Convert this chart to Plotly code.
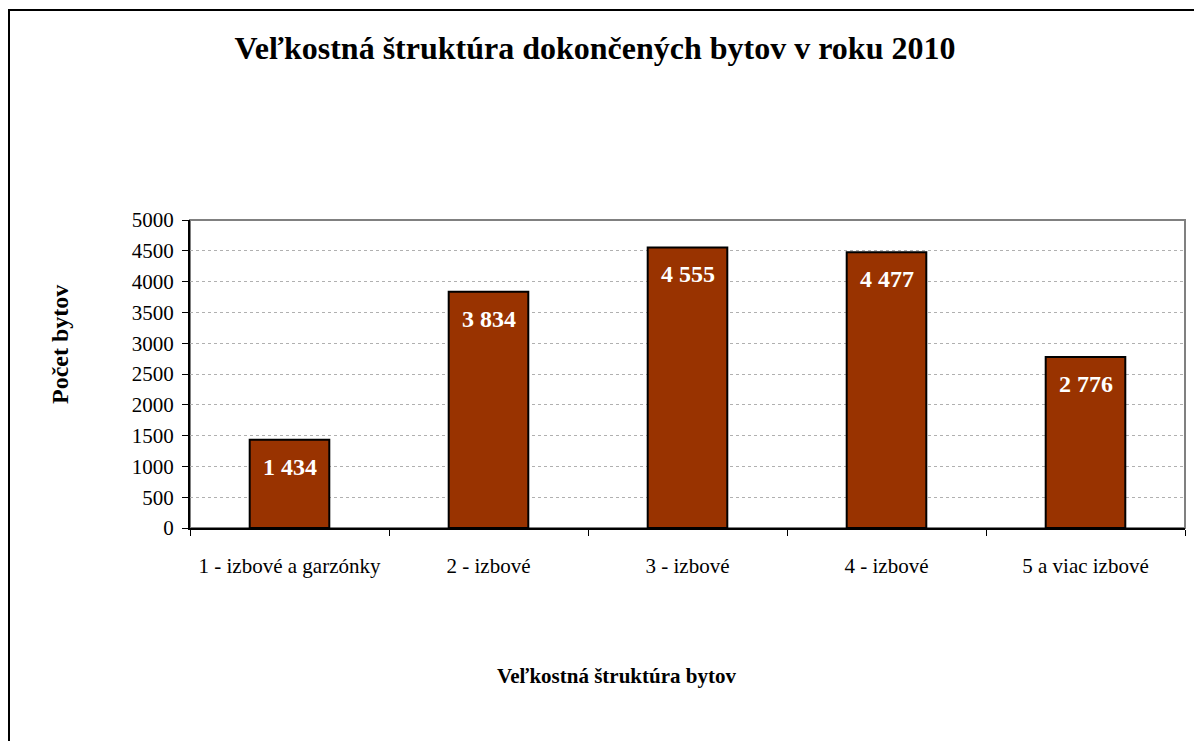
import plotly.graph_objects as go

# Data
categories = ['1 - izbové a garzónky', '2 - izbové', '3 - izbové', '4 - izbové', '5 a viac izbové']
values = [1434, 3834, 4555, 4477, 2776]
y_ticks = list(range(0, 5001, 500))

FONT = 'Liberation Serif'
OFF = 8  # default page margin of the html body
W, H = 1202 - 2 * OFF, 749 - 2 * OFF
# plot area in screen pixels: x 190..1185, y 220..528
L, R, T, B = 190 - OFF, 1202 - OFF - 1185, 220 - OFF, 749 - OFF - 528
PW, PH = W - L - R, H - T - B


def px_x(px):
    return (px - OFF - L) / PW


def px_y(py):
    return (H - B - (py - OFF)) / PH


labels = [f"{v:,}".replace(',', ' ') for v in values]

fig = go.Figure()

fig.add_trace(go.Bar(
    x=categories,
    y=values,
    width=0.40,
    marker=dict(color='#993300', line=dict(color='black', width=2)),
    hoverinfo='x+y'
))

# value labels inside the bars near the top
for c, v, t in zip(categories, values, labels):
    fig.add_annotation(
        x=c, y=v, text=f"<b>{t}</b>", showarrow=False,
        yshift=-27, xanchor='center', yanchor='middle',
        font=dict(family=FONT, size=24, color='white')
    )

# plot area frame (gray) and outer chart frame (black)
fig.add_shape(type='rect', xref='paper', yref='paper', x0=0, x1=1, y0=0, y1=1,
              line=dict(color='#808080', width=2), layer='below')
fig.add_shape(type='rect', xref='paper', yref='paper',
              x0=px_x(9), x1=px_x(1215), y0=px_y(765), y1=px_y(10),
              line=dict(color='black', width=2))

fig.add_annotation(
    xref='paper', yref='paper', x=px_x(60), y=px_y(345),
    xanchor='center', yanchor='middle',
    text='<b>Počet bytov</b>', textangle=-90, showarrow=False,
    font=dict(family=FONT, size=24, color='black')
)
fig.add_annotation(
    xref='paper', yref='paper', x=px_x(616), y=px_y(676),
    xanchor='center', yanchor='middle',
    text='<b>Veľkostná štruktúra bytov</b>', showarrow=False,
    font=dict(family=FONT, size=21, color='black')
)

fig.update_layout(
    title=dict(
        text='<b>Veľkostná štruktúra dokončených bytov v roku 2010</b>',
        x=(595 - OFF) / W, xanchor='center', y=1 - (48 - OFF) / H, yanchor='middle',
        font=dict(family=FONT, size=32, color='black')
    ),
    width=W, height=H,
    margin=dict(l=L, r=R, t=T, b=B),
    plot_bgcolor='white',
    paper_bgcolor='white',
    showlegend=False,
    xaxis=dict(
        type='category',
        tickson='boundaries',
        tickangle=0,
        ticks='outside', ticklen=6, tickcolor='black',
        showline=True, linecolor='black', linewidth=2,
        showgrid=False,
        ticklabelstandoff=18,
        tickfont=dict(family=FONT, size=21, color='black')
    ),
    yaxis=dict(
        range=[0, 5000],
        tickvals=y_ticks,
        ticks='outside', ticklen=6, tickcolor='black',
        showline=True, linecolor='black', linewidth=2,
        showgrid=True, gridcolor='#b0b0b0', griddash='dot', gridwidth=1,
        zeroline=False,
        ticklabelstandoff=4,
        tickfont=dict(family=FONT, size=21, color='black')
    )
)

fig.write_html("out.html")
